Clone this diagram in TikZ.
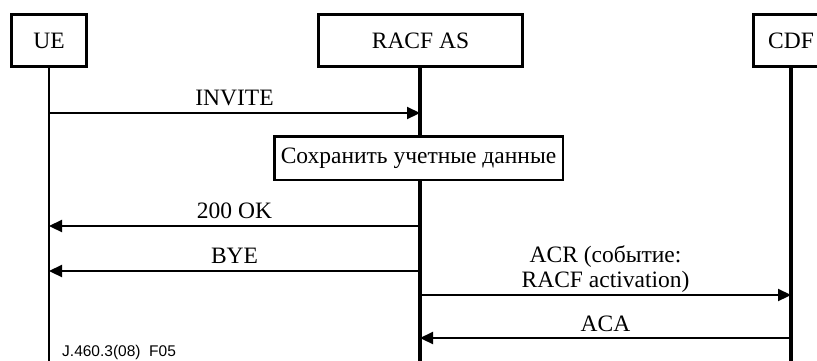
\documentclass[tikz,border=0pt]{standalone}
\usepackage{fontspec}
\setmainfont{Liberation Serif}
\newfontfamily\figsans{Liberation Sans}
\usetikzlibrary{arrows.meta}

\begin{document}
\begin{tikzpicture}[x=1pt, y=-1pt,
    every node/.style={font=\fontsize{23.5}{25}\selectfont, inner sep=0pt},
    entity/.style={draw, line width=3pt, minimum height=52pt, fill=white},
    lifeline/.style={draw, line width=#1},
    actionbox/.style={draw, line width=2.5pt, fill=white, minimum height=43.5pt},
    msg/.style={draw, line width=2.2pt, -{Triangle[length=13pt, width=12pt]}},
    msglabel/.style={anchor=base, yshift=7.5pt}]

  \useasboundingbox (0,0) rectangle (817,360);
  \clip (0,0) rectangle (817,360);

  % entities at the top of each lifeline
  \node[entity, minimum width=75pt]  (ue)   at (49,40.5)   {UE};
  \node[entity, minimum width=204pt] (racf) at (420.5,40.5) {RACF AS};
  \node[entity, minimum width=75pt]  (cdf)  at (791,40.5)   {CDF};

  % lifeline ends below the picture
  \coordinate (ue-end)   at (49,365);
  \coordinate (racf-end) at (420,365);
  \coordinate (cdf-end)  at (791,365);

  \draw[lifeline=2.5pt] (ue.south)   -- (ue-end);
  \draw[lifeline=4.5pt] (racf.south -| racf-end) -- (racf-end);
  \draw[lifeline=3.5pt] (cdf.south)  -- (cdf-end);

  % local action of the RACF AS
  \node[actionbox, minimum width=288.5pt] (store) at (418.5,158)
    {Сохранить учетные данные};

  % message levels
  \coordinate (t1) at (0,113);
  \coordinate (t2) at (0,226);
  \coordinate (t3) at (0,271);
  \coordinate (t4) at (0,295);
  \coordinate (t5) at (0,338);

  \draw[msg] (ue |- t1) -- node[msglabel] {INVITE} (racf-end |- t1);
  \draw[msg] (racf-end |- t2) -- node[msglabel] {200 OK} (ue |- t2);
  \draw[msg] (racf-end |- t3) -- node[msglabel] {BYE} (ue |- t3);
  \draw[msg] (racf-end |- t4) -- node[msglabel]
    {\begin{tabular}[b]{@{}c@{}}ACR (событие:\\RACF activation)\end{tabular}} (cdf |- t4);
  \draw[msg] (cdf |- t5) -- node[msglabel, yshift=-1pt] {ACA} (racf-end |- t5);

  % figure reference
  \node[anchor=base west, font=\figsans\fontsize{15.5}{17}\selectfont] (figref)
    at (62,356) {J.460.3(08)\ \ F05};
\end{tikzpicture}
\end{document}
